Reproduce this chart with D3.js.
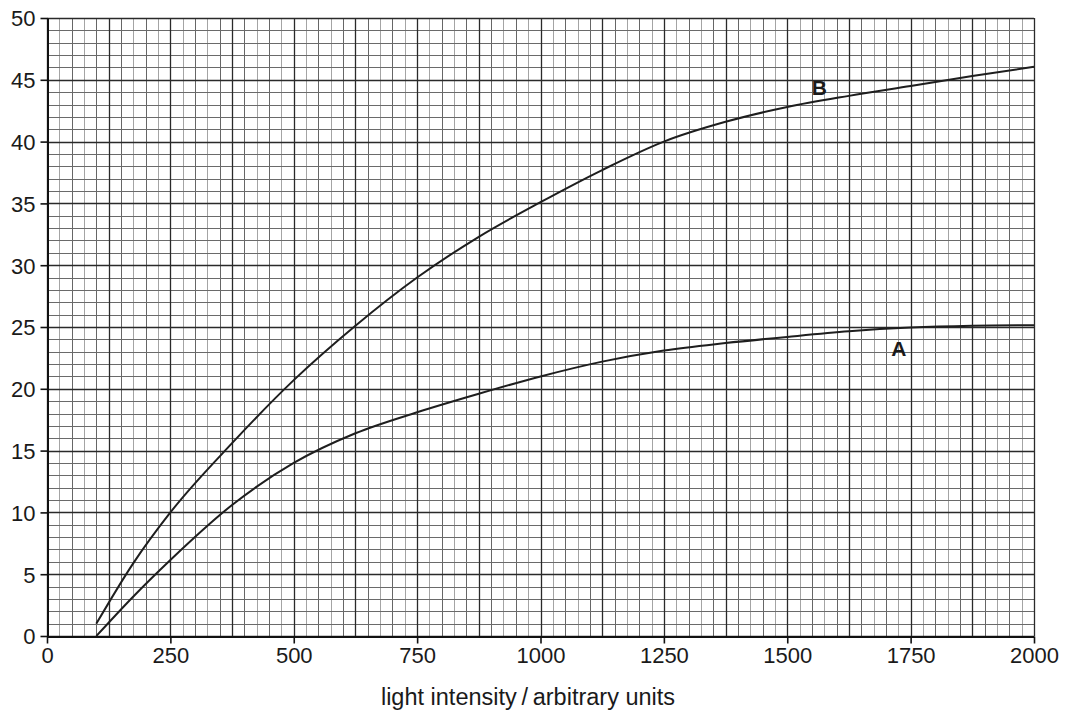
<!DOCTYPE html>
<html>
<head>
<meta charset="utf-8">
<script src="https://cdn.jsdelivr.net/npm/d3@7"></script>
<style>
  body { margin: 0; background: #fff; }
  svg { display: block; font-family: "Liberation Sans", Arial, sans-serif; }
</style>
</head>
<body>
<svg id="drawing_region"></svg>
<script>
// light intensity readings (x) and rate values for each curve
var curveB_x = [100, 175, 250, 375, 500, 625, 750, 875, 1000, 1125, 1250, 1375, 1500, 1625, 1750, 1875, 2000];
var curveB_y = [1, 5.9, 10, 15.6, 20.7, 25.1, 29, 32.3, 35.1, 37.7, 40, 41.6, 42.8, 43.7, 44.5, 45.3, 46.05];
var curveA_x = [100, 175, 250, 375, 500, 625, 750, 875, 1000, 1125, 1250, 1375, 1500, 1625, 1750, 1875, 2000];
var curveA_y = [0, 3.2, 6.15, 10.6, 14, 16.4, 18.1, 19.6, 21, 22.2, 23.1, 23.7, 24.2, 24.65, 24.95, 25.1, 25.15];
var xTicks = [0, 250, 500, 750, 1000, 1250, 1500, 1750, 2000];
var yTicks = [0, 5, 10, 15, 20, 25, 30, 35, 40, 45, 50];
var labels = [
  {name: "B", x: 1565, y: 44.4},
  {name: "A", x: 1726, y: 23.3}
];
var xTitle = "light intensity\u2009/\u2009arbitrary units";

var config = {
  width: 1065,
  height: 714,
  margin: {top: 18, right: 31, bottom: 78, left: 47}
};

var svg = d3.select('#drawing_region')
  .attr('width', config.width)
  .attr('height', config.height);

var chart = svg.append('g')
  .attr('transform', `translate(${config.margin.left}, ${config.margin.top})`);

var inner_width = config.width - config.margin.left - config.margin.right;
var inner_height = config.height - config.margin.top - config.margin.bottom;

var xscale = d3.scaleLinear().domain([0, 2000]).range([0, inner_width]);
var yscale = d3.scaleLinear().domain([0, 50]).range([inner_height, 0]);

// graph paper: minor lines every 25 / 1, heavy lines every 125 / 5
var minorX = d3.range(0, 2001, 25);
var minorY = d3.range(0, 51, 1);

chart.append('g').selectAll('line')
  .data(minorX.filter(d => d % 125 != 0))
  .join('line')
  .attr('x1', d => Math.round(xscale(d)) + 0.5)
  .attr('x2', d => Math.round(xscale(d)) + 0.5)
  .attr('y1', 0).attr('y2', inner_height)
  .attr('stroke', d => (d % 50 == 0) ? '#666' : '#a4a4a4')
  .attr('stroke-width', 1);

chart.append('g').selectAll('line')
  .data(minorY.filter(d => d % 5 != 0))
  .join('line')
  .attr('y1', d => Math.round(yscale(d)) + 0.5)
  .attr('y2', d => Math.round(yscale(d)) + 0.5)
  .attr('x1', 0).attr('x2', inner_width)
  .attr('stroke', '#6a6a6a')
  .attr('stroke-width', 1);

chart.append('g').selectAll('line')
  .data(minorX.filter(d => d % 125 == 0))
  .join('line')
  .attr('x1', d => Math.round(xscale(d)) + 0.5)
  .attr('x2', d => Math.round(xscale(d)) + 0.5)
  .attr('y1', 0).attr('y2', inner_height)
  .attr('stroke', '#2a2a2a')
  .attr('stroke-width', 1.3);

chart.append('g').selectAll('line')
  .data(minorY.filter(d => d % 5 == 0))
  .join('line')
  .attr('y1', d => Math.round(yscale(d)) + 0.5)
  .attr('y2', d => Math.round(yscale(d)) + 0.5)
  .attr('x1', 0).attr('x2', inner_width)
  .attr('stroke', '#2a2a2a')
  .attr('stroke-width', 1.3);

// axes
var xaxis = d3.axisBottom(xscale).tickValues(xTicks).tickFormat(d3.format('d'))
  .tickSize(7).tickSizeOuter(0).tickPadding(4);
var yaxis = d3.axisLeft(yscale).tickValues(yTicks).tickFormat(d3.format('d'))
  .tickSize(7).tickSizeOuter(0).tickPadding(5);

var xaxis_group = chart.append('g')
  .attr('transform', `translate(0, ${inner_height + 0.5})`)
  .call(xaxis);
var yaxis_group = chart.append('g')
  .attr('transform', 'translate(0.5, 0)')
  .call(yaxis);

[xaxis_group, yaxis_group].forEach(g => {
  g.select('.domain').attr('stroke', '#111').attr('stroke-width', 2);
  g.selectAll('.tick line').attr('stroke', '#111').attr('stroke-width', 1.6);
  g.selectAll('.tick text')
    .attr('fill', '#1a1a1a')
    .style('font-size', '22px')
    .style('font-family', '"Liberation Sans", Arial, sans-serif');
});
yaxis_group.selectAll('.tick text').attr('dy', '0.36em');

// x axis title
svg.append('text')
  .attr('x', 528)
  .attr('y', 705)
  .attr('text-anchor', 'middle')
  .attr('fill', '#1a1a1a')
  .style('font-size', '23.5px')
  .text(xTitle);

// curves
var line = d3.line()
  .x(d => xscale(d[0]))
  .y(d => yscale(d[1]))
  .curve(d3.curveMonotoneX);

var seriesB = curveB_x.map((x, i) => [x, curveB_y[i]]);
var seriesA = curveA_x.map((x, i) => [x, curveA_y[i]]);

chart.selectAll('path.curve')
  .data([seriesA, seriesB])
  .join('path')
  .attr('class', 'curve')
  .attr('d', d => line(d))
  .attr('fill', 'none')
  .attr('stroke', '#1e1e1e')
  .attr('stroke-width', 2);

chart.selectAll('text.curve-label')
  .data(labels)
  .join('text')
  .attr('class', 'curve-label')
  .attr('x', d => xscale(d.x))
  .attr('y', d => yscale(d.y))
  .attr('dy', '0.36em')
  .attr('text-anchor', 'middle')
  .attr('fill', '#1a1a1a')
  .style('font-size', '21px')
  .style('font-weight', 'bold')
  .text(d => d.name);
</script>
</body>
</html>
